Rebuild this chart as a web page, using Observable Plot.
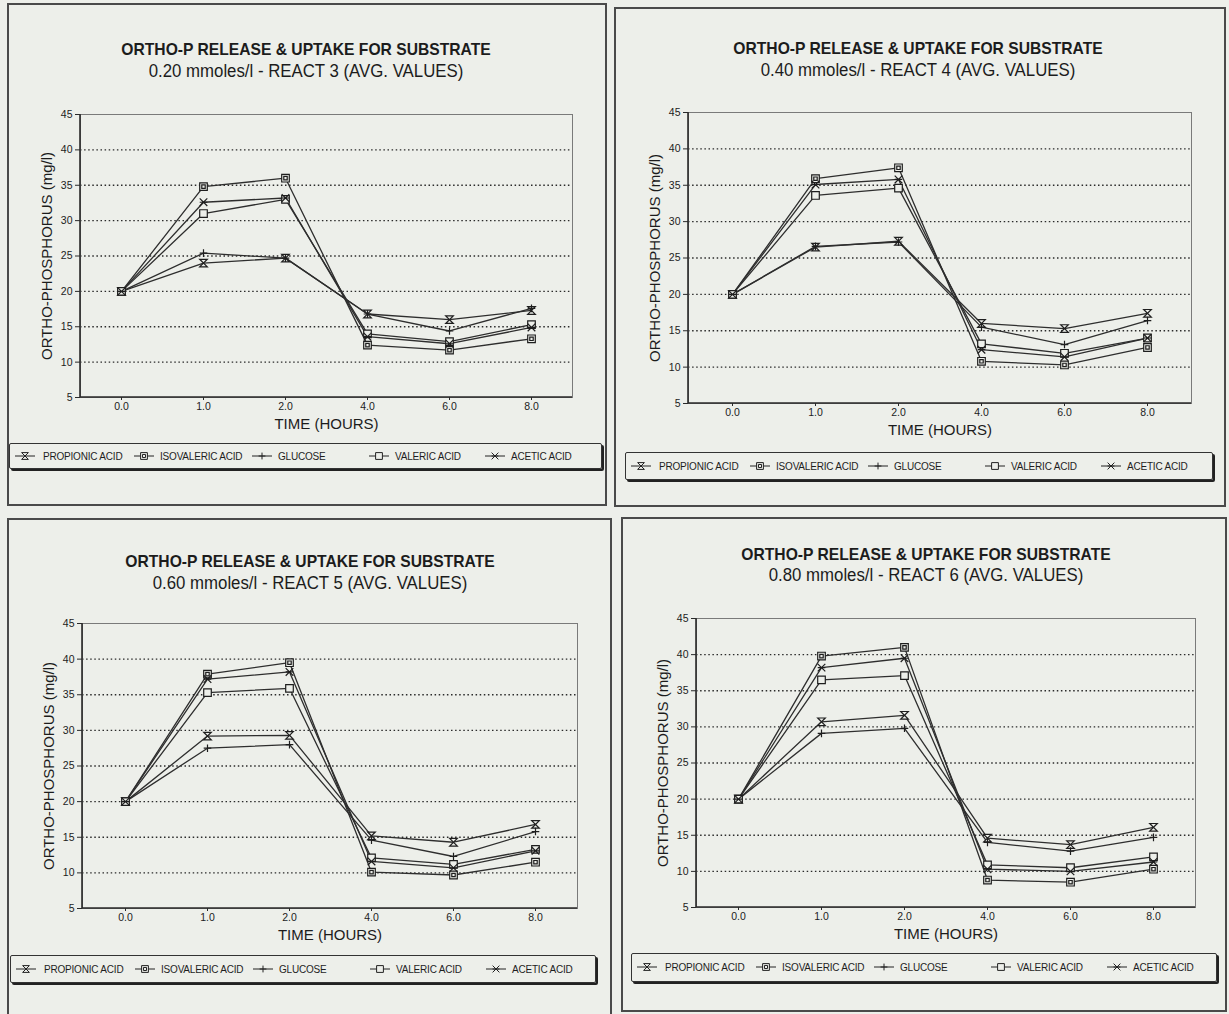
<!DOCTYPE html>
<html>
<head>
<meta charset="utf-8">
<script src="https://cdn.jsdelivr.net/npm/d3@7"></script>
<script src="https://cdn.jsdelivr.net/npm/@observablehq/plot@0.6"></script>
<style>
  html, body { margin: 0; padding: 0; background: #edefea; }
  body { position: relative; width: 1229px; height: 1014px; overflow: hidden;
         font-family: "Liberation Sans", Arial, sans-serif; color: #1c1c1c; }
  .box { position: absolute; border: 2px solid #4a4a4a; box-sizing: border-box; }
  .title, .sub { position: absolute; width: 600px; text-align: center; white-space: nowrap; }
  .title { font-weight: bold; font-size: 17px; line-height: 17px; transform: scaleX(0.92); }
  .sub { font-size: 17.5px; line-height: 17px; transform: scaleX(0.96); }
  .chart { position: absolute; }
  .legend { position: absolute; box-sizing: border-box; border: 1.5px solid #333;
            box-shadow: 2px 2px 0 #222; border-radius: 2px; }
  .legend .item { position: absolute; top: 0; height: 100%; display: flex; align-items: center;
                  font-size: 10px; letter-spacing: -0.2px; white-space: nowrap; color: #1e1e1e; }
  .legend svg { position: absolute; }
</style>
</head>
<body>
<script>
// Sampling times (hours) and substrates, in legend order
const times = ["0.0", "1.0", "2.0", "4.0", "6.0", "8.0"];
const substrates = ["PROPIONIC ACID", "ISOVALERIC ACID", "GLUCOSE", "VALERIC ACID", "ACETIC ACID"];
const yTicks = [5, 10, 15, 20, 25, 30, 35, 40, 45];
const gridLevels = [10, 15, 20, 25, 30, 35, 40];

const mainTitle = "ORTHO-P RELEASE & UPTAKE FOR SUBSTRATE";
const subtitles = [
  "0.20 mmoles/l - REACT 3 (AVG. VALUES)",
  "0.40 mmoles/l - REACT 4 (AVG. VALUES)",
  "0.60 mmoles/l - REACT 5 (AVG. VALUES)",
  "0.80 mmoles/l - REACT 6 (AVG. VALUES)"
];
const xLabel = "TIME (HOURS)";
const yLabel = "ORTHO-PHOSPHORUS (mg/l)";

// Average ortho-P (mg/l) per substrate; rows follow the substrates order
const react3 = [
  [20, 24.0, 24.7, 16.8, 16.0, 17.3],
  [20, 34.8, 36.0, 12.4, 11.7, 13.3],
  [20, 25.4, 24.7, 16.8, 14.4, 17.6],
  [20, 31.0, 33.0, 14.0, 12.9, 15.3],
  [20, 32.6, 33.2, 13.6, 12.6, 14.9]
];
const react4 = [
  [20, 26.5, 27.3, 16.0, 15.3, 17.4],
  [20, 35.9, 37.4, 10.8, 10.3, 12.7],
  [20, 26.6, 27.2, 15.5, 13.1, 16.4],
  [20, 33.6, 34.6, 13.2, 11.9, 14.0],
  [20, 35.1, 35.8, 12.4, 11.4, 14.0]
];
const react5 = [
  [20, 29.2, 29.3, 15.2, 14.3, 16.8],
  [20, 37.9, 39.5, 10.1, 9.7, 11.5],
  [20, 27.5, 28.0, 14.6, 12.3, 15.8],
  [20, 35.3, 35.9, 12.1, 11.2, 13.3],
  [20, 37.2, 38.2, 11.6, 10.7, 13.1]
];
const react6 = [
  [20, 30.7, 31.6, 14.6, 13.7, 16.1],
  [20, 39.8, 41.0, 8.8, 8.5, 10.3],
  [20, 29.1, 29.8, 14.0, 12.8, 14.7],
  [20, 36.5, 37.1, 10.9, 10.5, 12.0],
  [20, 38.2, 39.5, 10.3, 10.0, 11.3]
];

const BG = "#edefea";
const INK = "#1c1c1c";

// Marker shapes, one per substrate
const symbols = [
  { draw(c, size) { const h = Math.sqrt(size / Math.PI);          // hourglass
      c.moveTo(-h, -h); c.lineTo(h, -h); c.lineTo(-h, h); c.lineTo(h, h); c.closePath(); } },
  { draw(c, size) { const h = Math.sqrt(size / Math.PI), k = h * 0.45; // boxed dot
      c.rect(-h, -h, 2 * h, 2 * h); c.rect(-k, -k, 2 * k, 2 * k); } },
  { draw(c, size) { const h = Math.sqrt(size / Math.PI);          // plus
      c.moveTo(-h, 0); c.lineTo(h, 0); c.moveTo(0, -h); c.lineTo(0, h); } },
  { draw(c, size) { const h = Math.sqrt(size / Math.PI);          // open square
      c.rect(-h, -h, 2 * h, 2 * h); } },
  { draw(c, size) { const h = Math.sqrt(size / Math.PI);          // barred cross
      c.moveTo(-h, -h); c.lineTo(h, h); c.moveTo(h, -h); c.lineTo(-h, h);
      c.moveTo(-h, 0); c.lineTo(h, 0); } }
];

// Page placement of each panel: outer box, plot frame, title centre, legend box
const panels = [
  { rows: react3, box: [7, 3, 607, 506], frame: [80, 114, 572, 397], cx: 306, titleTop: 41, subTop: 63, legend: [9, 443, 602, 469] },
  { rows: react4, box: [614, 7, 1226, 507], frame: [688, 112, 1191, 403], cx: 918, titleTop: 40, subTop: 62, legend: [625, 452, 1213, 480] },
  { rows: react5, box: [7, 518, 612, 1020], frame: [82, 623, 577, 908], cx: 310, titleTop: 553, subTop: 575, legend: [10, 955, 596, 983] },
  { rows: react6, box: [621, 517, 1227, 1012], frame: [696, 618, 1195, 907], cx: 926, titleTop: 546, subTop: 567, legend: [631, 953, 1217, 982] }
];

const legendMarkerX = [4, 123, 241, 358, 474];
const legendTextX = [33, 150, 268, 385, 501];

function el(tag, cls, style) {
  const e = document.createElement(tag);
  if (cls) e.className = cls;
  Object.assign(e.style, style || {});
  document.body.appendChild(e);
  return e;
}

function symbolPath(symbol, r) {
  const p = d3.path();
  symbol.draw(p, r * r * Math.PI);
  return p.toString();
}

panels.forEach((pn, i) => {
  const [bx0, by0, bx1, by1] = pn.box;
  el("div", "box", { left: bx0 + "px", top: by0 + "px", width: (bx1 - bx0) + "px", height: (by1 - by0) + "px" });

  const t = el("div", "title", { left: (pn.cx - 300) + "px", top: pn.titleTop + "px" });
  t.textContent = mainTitle;
  const s = el("div", "sub", { left: (pn.cx - 300) + "px", top: pn.subTop + "px" });
  s.textContent = subtitles[i];

  const data = [];
  pn.rows.forEach((row, k) => row.forEach((v, j) => data.push({ substrate: substrates[k], time: times[j], value: v })));

  const [fx0, fy0, fx1, fy1] = pn.frame;
  const mL = 60, mR = 12, mT = 12, mB = 44;
  const chart = Plot.plot({
    width: fx1 - fx0 + mL + mR,
    height: fy1 - fy0 + mT + mB,
    marginLeft: mL, marginRight: mR, marginTop: mT, marginBottom: mB,
    style: { background: "transparent", fontFamily: "'Liberation Sans', Arial, sans-serif", color: INK, overflow: "visible" },
    x: { type: "point", domain: times, padding: 0.5, axis: null },
    y: { domain: [5, 45], axis: null },
    marks: [
      Plot.ruleY(gridLevels, { stroke: "#2a2a2a", strokeWidth: 1.3, strokeDasharray: "1.5,2.6" }),
      Plot.frame({ stroke: "#7a7a7a", strokeWidth: 1 }),
      // darker left and bottom axis lines
      (index, scales, values, dim) => {
        const g = d3.create("svg:g").attr("stroke", "#2a2a2a").attr("stroke-width", 1.6);
        g.append("line").attr("x1", dim.marginLeft).attr("x2", dim.marginLeft)
          .attr("y1", dim.marginTop).attr("y2", dim.height - dim.marginBottom);
        g.append("line").attr("x1", dim.marginLeft).attr("x2", dim.width - dim.marginRight)
          .attr("y1", dim.height - dim.marginBottom).attr("y2", dim.height - dim.marginBottom);
        return g.node();
      },
      Plot.axisY(yTicks, { tickSize: 5, tickPadding: 3, fontSize: 10.5, label: null, stroke: "#2a2a2a" }),
      Plot.axisX(times, { tickSize: 3, tickPadding: 2, fontSize: 10.5, label: null, stroke: "#2a2a2a" }),
      Plot.line(data, { x: "time", y: "value", z: "substrate", stroke: "#2e2e2e", strokeWidth: 1.3 }),
      ...substrates.map((name, k) => Plot.dot(data.filter(d => d.substrate === name), {
        x: "time", y: "value", symbol: symbols[k], r: 3.8, fill: BG, stroke: "#1e1e1e", strokeWidth: 1.2
      })),
      Plot.text([yLabel], { frameAnchor: "left", dx: -33, rotate: -90, textAnchor: "middle", lineAnchor: "middle", fontSize: 15, fill: INK }),
      Plot.text([xLabel], { frameAnchor: "bottom", dy: 27, textAnchor: "middle", lineAnchor: "middle", fontSize: 15, fill: INK })
    ]
  });
  const holder = el("div", "chart", { left: (fx0 - mL) + "px", top: (fy0 - mT) + "px" });
  holder.appendChild(chart);

  // legend box with a line-and-marker swatch per substrate
  const [lx0, ly0, lx1, ly1] = pn.legend;
  const lg = el("div", "legend", { left: lx0 + "px", top: ly0 + "px", width: (lx1 - lx0) + "px", height: (ly1 - ly0) + "px" });
  const lh = ly1 - ly0 - 3;
  substrates.forEach((name, k) => {
    const sw = d3.create("svg").attr("width", 22).attr("height", 12)
      .style("left", legendMarkerX[k] + "px").style("top", (lh / 2 - 6) + "px");
    sw.append("line").attr("x1", 1).attr("x2", 21).attr("y1", 6).attr("y2", 6).attr("stroke", "#222").attr("stroke-width", 1);
    sw.append("path").attr("transform", "translate(11,6)").attr("d", symbolPath(symbols[k], 3.4))
      .attr("fill", BG).attr("stroke", "#222").attr("stroke-width", 1);
    lg.appendChild(sw.node());
    const it = document.createElement("div");
    it.className = "item";
    it.style.left = legendTextX[k] + "px";
    it.textContent = name;
    lg.appendChild(it);
  });
});
</script>
</body>
</html>
